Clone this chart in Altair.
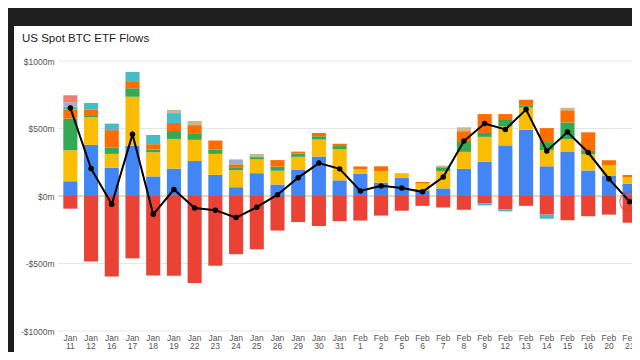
import altair as alt
import pandas as pd

dates = ["Jan 11", "Jan 12", "Jan 16", "Jan 17", "Jan 18", "Jan 19", "Jan 22", "Jan 23",
         "Jan 24", "Jan 25", "Jan 26", "Jan 29", "Jan 30", "Jan 31", "Feb 1", "Feb 2",
         "Feb 5", "Feb 6", "Feb 7", "Feb 8", "Feb 9", "Feb 12", "Feb 13", "Feb 14",
         "Feb 15", "Feb 16", "Feb 20", "Feb 21"]

ibit = [109, 379, 210, 372, 145, 203, 259, 157, 65, 169, 85, 196, 292, 116, 164, 99,
        133, 41, 56, 201, 254, 375, 491, 220, 326, 189, 152, 90]
gbtc = [-94, -486, -597, -462, -588, -590, -645, -516, -431, -395, -256, -193, -222, -186,
        -182, -145, -109, -73, -85, -102, -53, -97, -73, -138, -179, -150, -138, -198]
fbtc = [230, 205, 102, 363, 179, 220, 157, 155, 126, 102, 102, 94, 126, 230, 36, 85,
        36, 51, 128, 126, 184, 140, 164, 121, 97, 121, 77, 50]
bitb = [234, 15, 48, 63, 19, 58, 44, 31, 17, 17, 31, 24, 24, 24, 0, 0,
        0, 0, 29, 73, 29, 48, 17, 58, 121, 24, 0, 0]
arkb = [65, 40, 128, 53, 41, 60, 65, 68, 27, 0, 48, 15, 24, 17, 19, 36,
        0, 12, 0, 80, 140, 44, 41, 104, 92, 138, 36, 16]
btco = [24, 50, 48, 68, 68, 73, 0, 0, 0, 0, 0, 0, 0, 0, 0, 0,
        0, 0, 0, 0, -17, -17, 0, -31, 0, 0, 0, 0]
hodl = [31, 0, 0, 0, 0, 0, 0, 0, 36, 0, 0, 0, 0, 0, 0, 0,
        0, 0, 0, 0, 0, 0, 0, 0, 0, 0, 0, 0]
brrr = [53, 0, 0, 0, 0, 0, 0, 0, 0, 0, 0, 0, 0, 0, 0, 0,
        0, 0, 0, 0, 0, 0, 0, 0, 0, 0, 0, 0]
ezbc = [0, 0, 0, 0, 0, 24, 31, 0, 0, 24, 0, 0, 0, 0, 0, 0,
        0, 0, 12, 29, 0, 0, 0, 0, 17, 0, 0, 0]

series_names = ["IBIT", "GBTC", "FBTC", "BITB", "ARKB", "BTCO", "HODL", "BRRR", "EZBC"]
series_values = [ibit, gbtc, fbtc, bitb, arkb, btco, hodl, brrr, ezbc]
series_colors = ["#4285F4", "#EA4335", "#FBBC04", "#34A853", "#FF6D01", "#46BDC6",
                 "#9BB0D0", "#F07B72", "#C8B98A"]

y_ticks = [-1000, -500, 0, 500, 1000]
highlight_date = "Feb 21"
chart_title = "US Spot BTC ETF Flows"

rows = []
for si, (name, vals) in enumerate(zip(series_names, series_values)):
    for d, v in zip(dates, vals):
        rows.append({"date": d, "fund": name, "idx": si, "value": v})
df = pd.DataFrame(rows)
one = pd.DataFrame({"a": [0]})

W, H = 580, 270
yscale = alt.Scale(domain=[-1000, 1000], nice=False, zero=False)
xenc = alt.X("date:N", sort=dates,
             scale=alt.Scale(paddingInner=0.32, paddingOuter=0.16),
             axis=alt.Axis(title=None, labelAngle=0, ticks=False, domain=False, grid=False,
                           labelExpr="split(datum.label, ' ')", labelFontSize=8.5,
                           labelLineHeight=8.5, labelColor="#555", labelPadding=2,
                           labelFont="Liberation Sans", zindex=1))

panel = alt.Chart(one).mark_rect(color="white").encode(
    x=alt.value(-46), x2=alt.value(W + 30), y=alt.value(-35), y2=alt.value(H + 40))

title = alt.Chart(one).mark_text(
    align="left", baseline="alphabetic", fontSize=11.5, font="Liberation Sans",
    color="#222").encode(x=alt.value(-38), y=alt.value(-19), text=alt.value(chart_title))

grid_df = pd.DataFrame({"v": y_ticks, "zero": [v == 0 for v in y_ticks]})
grid = alt.Chart(grid_df).mark_rule(strokeWidth=1).encode(
    y=alt.Y("v:Q", scale=yscale,
            axis=alt.Axis(title=None, values=y_ticks, ticks=False, domain=False, grid=False,
                          labelExpr="(datum.value < 0 ? '-$' : '$') + abs(datum.value) + 'm'",
                          labelFontSize=8.5, labelColor="#555", labelPadding=6,
                          labelFont="Liberation Sans", zindex=1)),
    x=alt.value(-2), x2=alt.value(W + 10),
    color=alt.condition("datum.zero", alt.value("#b5b5b5"), alt.value("#e6e6e6")))

bars = alt.Chart(df).mark_bar().encode(
    x=xenc,
    y=alt.Y("value:Q", scale=yscale, stack="zero"),
    color=alt.Color("fund:N", scale=alt.Scale(domain=series_names, range=series_colors),
                    legend=None),
    order=alt.Order("idx:Q", sort="ascending"))

net = alt.Chart(df).transform_aggregate(
    net="sum(value)", groupby=["date"]).mark_line(
    color="black", strokeWidth=2,
    point=alt.OverlayMarkDef(filled=True, color="black", size=30)).encode(
    x=alt.X("date:N", sort=dates), y=alt.Y("net:Q", scale=yscale))

ring = alt.Chart(df).transform_aggregate(
    net="sum(value)", groupby=["date"]).transform_filter(
    alt.datum.date == highlight_date).mark_point(
    shape="circle", size=380, filled=False, color="#e53935", strokeWidth=1.2).encode(
    x=alt.X("date:N", sort=dates), y=alt.Y("net:Q", scale=yscale))

chart = alt.layer(panel, title, grid, bars, net, ring).properties(
    width=W, height=H,
    autosize=alt.AutoSizeParams(type="none"),
    padding={"left": 52, "top": 53, "right": -8, "bottom": 21},
    background="#1e1e1e",
).configure_view(stroke=None)

chart.save("out.html", embed_options={"renderer": "svg", "actions": False})
